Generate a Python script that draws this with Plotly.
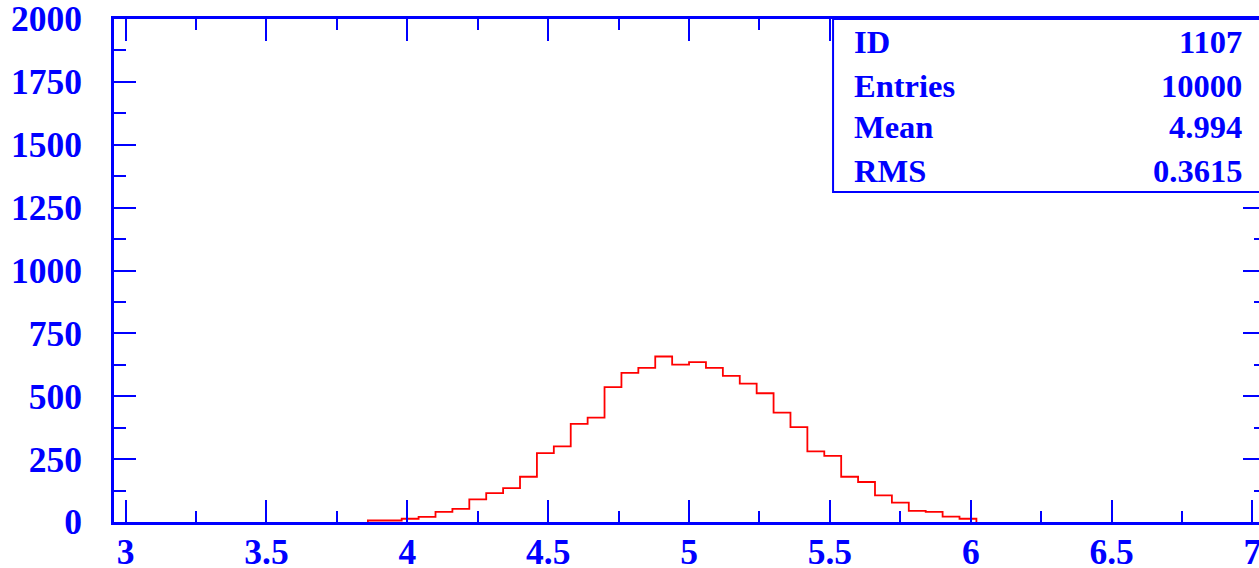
import numpy as np
import plotly.graph_objects as go

# Histogram 1107: 10000 entries, fixed-width bins starting at 3.86
bin_low = 3.86
bin_width = 0.06
counts = [6, 6, 13, 20, 40, 52, 90, 115, 135, 180, 274, 301, 390, 415, 536, 593,
          613, 658, 626, 636, 613, 581, 550, 512, 435, 377, 281, 263, 180, 159,
          106, 77, 44, 40, 21, 13]

stat_labels = ["ID", "Entries", "Mean", "RMS"]
stat_values = ["1107", "10000", "4.994", "0.3615"]

x_ticks = [3, 3.5, 4, 4.5, 5, 5.5, 6, 6.5, 7]
x_tick_text = ["3", "3.5", "4", "4.5", "5", "5.5", "6", "6.5", "7"]
y_ticks = [0, 250, 500, 750, 1000, 1250, 1500, 1750, 2000]

BLUE = "#0000ff"
FONT = "Liberation Serif"

edges = bin_low + bin_width * np.arange(len(counts) + 1)
# hv step outline, closed down to zero at both ends
step_x = np.concatenate([[edges[0]], edges])
step_y = np.concatenate([[0], counts, [0]])

fig = go.Figure()
fig.add_trace(go.Scatter(
    x=step_x, y=step_y, mode="lines", line=dict(color="#ff0000", width=1.8, shape="hv"),
    hoverinfo="skip", showlegend=False,
))
# empty trace so the right-hand tick axis is drawn
fig.add_trace(go.Scatter(x=[None], y=[None], yaxis="y2", showlegend=False, hoverinfo="skip"))

tick_font = dict(family=FONT, size=35.5, color=BLUE, weight="bold")

fig.update_layout(
    width=1259, height=568,
    margin=dict(l=114, r=0, t=19, b=46),
    paper_bgcolor="white", plot_bgcolor="white",
    xaxis=dict(
        range=[2.9588, 7.0231], tickmode="array", tickvals=x_ticks, ticktext=x_tick_text,
        ticks="inside", ticklen=22, tickwidth=2, tickcolor=BLUE,
        minor=dict(dtick=0.25, tick0=3, ticks="inside", ticklen=11, tickwidth=2, tickcolor=BLUE),
        showline=True, linewidth=3, linecolor=BLUE, mirror="ticks",
        showgrid=False, zeroline=False, tickfont=tick_font, ticklabelstandoff=-4,
        automargin=False, ticklabeloverflow="allow",
    ),
    yaxis=dict(
        range=[0, 2000], tickmode="array", tickvals=y_ticks,
        ticks="inside", ticklen=22, tickwidth=2, tickcolor=BLUE,
        minor=dict(dtick=125, tick0=0, ticks="inside", ticklen=12, tickwidth=2, tickcolor=BLUE),
        showline=True, linewidth=3, linecolor=BLUE, mirror=False,
        showgrid=False, zeroline=False, tickfont=tick_font, ticklabelstandoff=22,
        automargin=False, ticklabeloverflow="allow",
    ),
    yaxis2=dict(
        range=[0, 2000], overlaying="y", side="right", tickmode="array", tickvals=y_ticks,
        ticks="inside", ticklen=16, tickwidth=2, tickcolor=BLUE, showticklabels=False,
        minor=dict(dtick=125, tick0=0, ticks="inside", ticklen=5, tickwidth=2, tickcolor=BLUE),
        showline=False, showgrid=False, zeroline=False, automargin=False,
    ),
)

# statistics box in the upper-right corner
fig.add_shape(type="rect", xref="paper", yref="paper", x0=0.628, x1=1.02, y0=0.656, y1=1.0,
              line=dict(color=BLUE, width=2), fillcolor="white", layer="above")
row_y = [42.5, 86, 127, 171]
for lab, val, yp in zip(stat_labels, stat_values, row_y):
    yy = (522 - yp) / 503
    fig.add_annotation(text=lab, xref="paper", yref="paper", x=0.6446, y=yy,
                       xanchor="left", yanchor="middle", showarrow=False,
                       font=dict(family=FONT, size=32.5, color=BLUE, weight="bold"))
    fig.add_annotation(text=val, xref="paper", yref="paper", x=0.9868, y=yy,
                       xanchor="right", yanchor="middle", showarrow=False,
                       font=dict(family=FONT, size=32.5, color=BLUE, weight="bold"))

fig.write_html("out.html")
